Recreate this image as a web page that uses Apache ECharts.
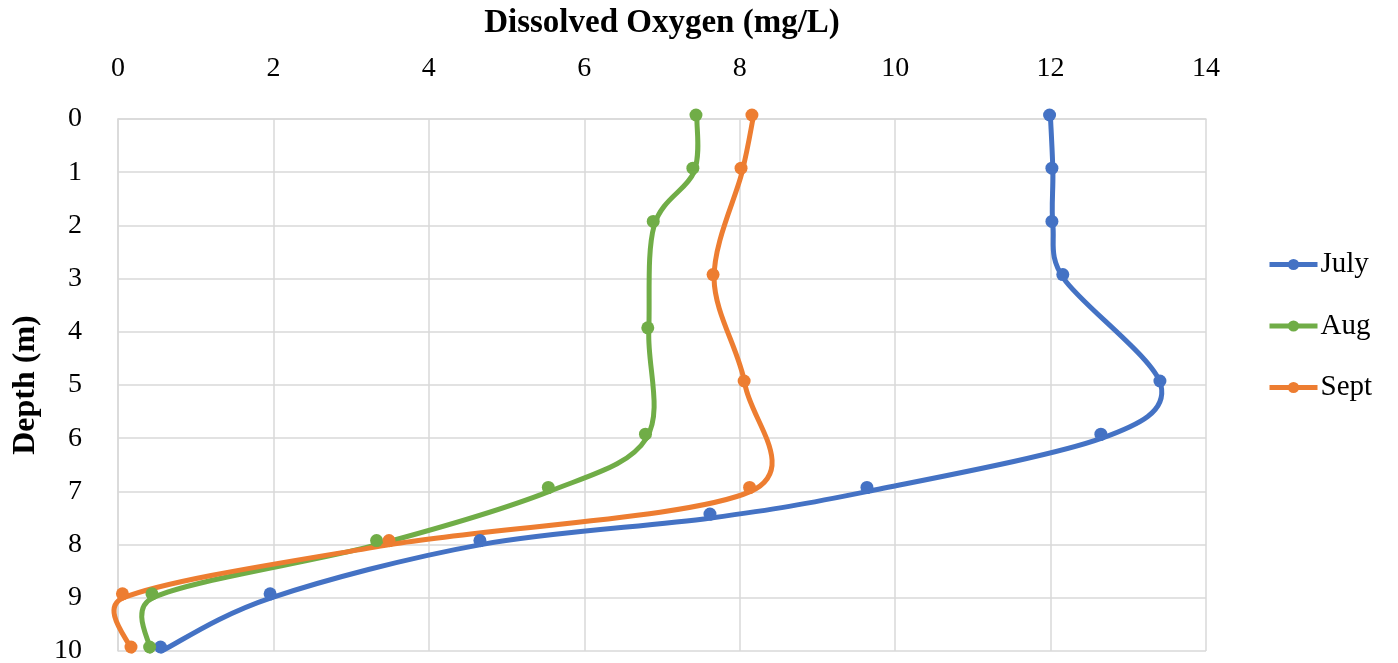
<!DOCTYPE html>
<html>
<head>
<meta charset="utf-8">
<title>Dissolved Oxygen Profiles</title>
<script src="https://cdn.jsdelivr.net/npm/echarts@6/dist/echarts.min.js"></script>
<style>
  html, body { margin: 0; padding: 0; background: #ffffff; }
  #chart { width: 1398px; height: 663px; }
</style>
</head>
<body>
<div id="chart"></div>
<script>
// Depth profiles (m) and dissolved oxygen readings (mg/L) per month
const julyDepth = [0, 1, 2, 3, 5, 6, 7, 7.5, 8, 9, 10];
const julyDO    = [12.0, 12.03, 12.03, 12.17, 13.42, 12.66, 9.65, 7.63, 4.67, 1.97, 0.56];

const augDepth  = [0, 1, 2, 4, 6, 7, 8, 9, 10];
const augDO     = [7.45, 7.41, 6.9, 6.83, 6.8, 5.55, 3.34, 0.45, 0.42];

const septDepth = [0, 1, 3, 5, 7, 8, 9, 10];
const septDO    = [8.17, 8.03, 7.67, 8.07, 8.14, 3.5, 0.07, 0.18];

const seriesNames  = ['July', 'Aug', 'Sept'];
const seriesColors = ['#4472C4', '#70AD47', '#ED7D31'];

const FONT = 'Liberation Serif';
const LINE_WIDTH = 5;

function pairs(xs, ys) {
  return xs.map((x, i) => [x, ys[i]]);
}

function dist(a, b) {
  return Math.hypot(b[0] - a[0], b[1] - a[1]);
}

// Spreadsheet-style smoothing: Catmull-Rom tangents (1/6 of the chord between
// neighbours), with each control arm capped at half of the segment length.
function segmentControls(p0, p1, p2, p3) {
  const d12 = dist(p1, p2);
  const d02 = dist(p0, p2);
  const d13 = dist(p1, p3);
  let f = 1 / 6, g = 1 / 6;
  if (d02 > 0 && d02 / 6 >= d12 / 2) f = d12 / (2 * d02);
  if (d13 > 0 && d13 / 6 >= d12 / 2) g = d12 / (2 * d13);
  return [
    [p1[0] + f * (p2[0] - p0[0]), p1[1] + f * (p2[1] - p0[1])],
    [p2[0] - g * (p3[0] - p1[0]), p2[1] - g * (p3[1] - p1[1])]
  ];
}

// Smoothed profile curve, one bezier segment per pair of neighbouring readings
function curveSeries(name, color, data) {
  return {
    name: name,
    type: 'custom',
    coordinateSystem: 'cartesian2d',
    data: data,
    encode: { x: 0, y: 1 },
    z: 2,
    silent: true,
    renderItem: function (params, api) {
      const i = params.dataIndex;
      const n = data.length;
      if (i >= n - 1) return null;
      const p0 = api.coord(data[Math.max(i - 1, 0)]);
      const p1 = api.coord(data[i]);
      const p2 = api.coord(data[i + 1]);
      const p3 = api.coord(data[Math.min(i + 2, n - 1)]);
      const cp = segmentControls(p0, p1, p2, p3);
      return {
        type: 'bezierCurve',
        shape: {
          x1: p1[0], y1: p1[1],
          x2: p2[0], y2: p2[1],
          cpx1: cp[0][0], cpy1: cp[0][1],
          cpx2: cp[1][0], cpy2: cp[1][1]
        },
        style: { stroke: color, lineWidth: LINE_WIDTH, fill: null, lineCap: 'round' }
      };
    }
  };
}

// Reading markers (line itself hidden; the curve above draws the profile)
function markerSeries(name, color, data) {
  return {
    name: name,
    type: 'line',
    data: data,
    z: 3,
    symbol: 'circle',
    symbolSize: 13,
    symbolOffset: [-1, -4],
    showSymbol: true,
    lineStyle: { color: color, width: LINE_WIDTH, opacity: 0 },
    itemStyle: { color: color },
    emphasis: { disabled: true }
  };
}

const chart = echarts.init(document.getElementById('chart'), null, { renderer: 'canvas' });

const gridColor = '#d9d9d9';

const monthData = [
  pairs(julyDO, julyDepth),
  pairs(augDO, augDepth),
  pairs(septDO, septDepth)
];

const series = [];
seriesNames.forEach((name, k) => {
  series.push(markerSeries(name, seriesColors[k], monthData[k]));
});
seriesNames.forEach((name, k) => {
  series.push(curveSeries(name, seriesColors[k], monthData[k]));
});

chart.setOption({
  animation: false,
  backgroundColor: '#ffffff',
  textStyle: { fontFamily: FONT, color: '#000' },
  grid: { left: 118, right: 192, top: 119, bottom: 12, containLabel: false, outerBoundsMode: 'none' },
  xAxis: {
    type: 'value',
    position: 'top',
    min: 0, max: 14, interval: 2,
    name: 'Dissolved Oxygen (mg/L)',
    nameLocation: 'middle',
    nameGap: 79,
    nameTextStyle: { fontFamily: FONT, fontSize: 33, fontWeight: 'bold', color: '#000' },
    axisLine: { show: true, lineStyle: { color: gridColor, width: 1.5 } },
    axisTick: { show: false },
    axisLabel: { fontFamily: FONT, fontSize: 28, color: '#000', margin: 36 },
    splitLine: { show: true, lineStyle: { color: gridColor, width: 1.5 } }
  },
  yAxis: {
    type: 'value',
    inverse: true,
    min: 0, max: 10, interval: 1,
    name: 'Depth (m)',
    nameLocation: 'middle',
    nameGap: 76,
    nameRotate: 90,
    nameTextStyle: { fontFamily: FONT, fontSize: 32, fontWeight: 'bold', color: '#000' },
    axisLine: { show: true, lineStyle: { color: gridColor, width: 1.5 } },
    axisTick: { show: false },
    axisLabel: { fontFamily: FONT, fontSize: 28, color: '#000', margin: 36 },
    splitLine: { show: true, lineStyle: { color: gridColor, width: 1.5 } }
  },
  legend: {
    orient: 'vertical',
    left: 1262,
    top: 245,
    itemWidth: 48,
    itemHeight: 14,
    itemGap: 32.5,
    lineStyle: { width: LINE_WIDTH, opacity: 1 },
    textStyle: { fontFamily: FONT, fontSize: 29, color: '#000', padding: [0, 0, 0, -2] },
    data: seriesNames
  },
  series: series
});
</script>
</body>
</html>
